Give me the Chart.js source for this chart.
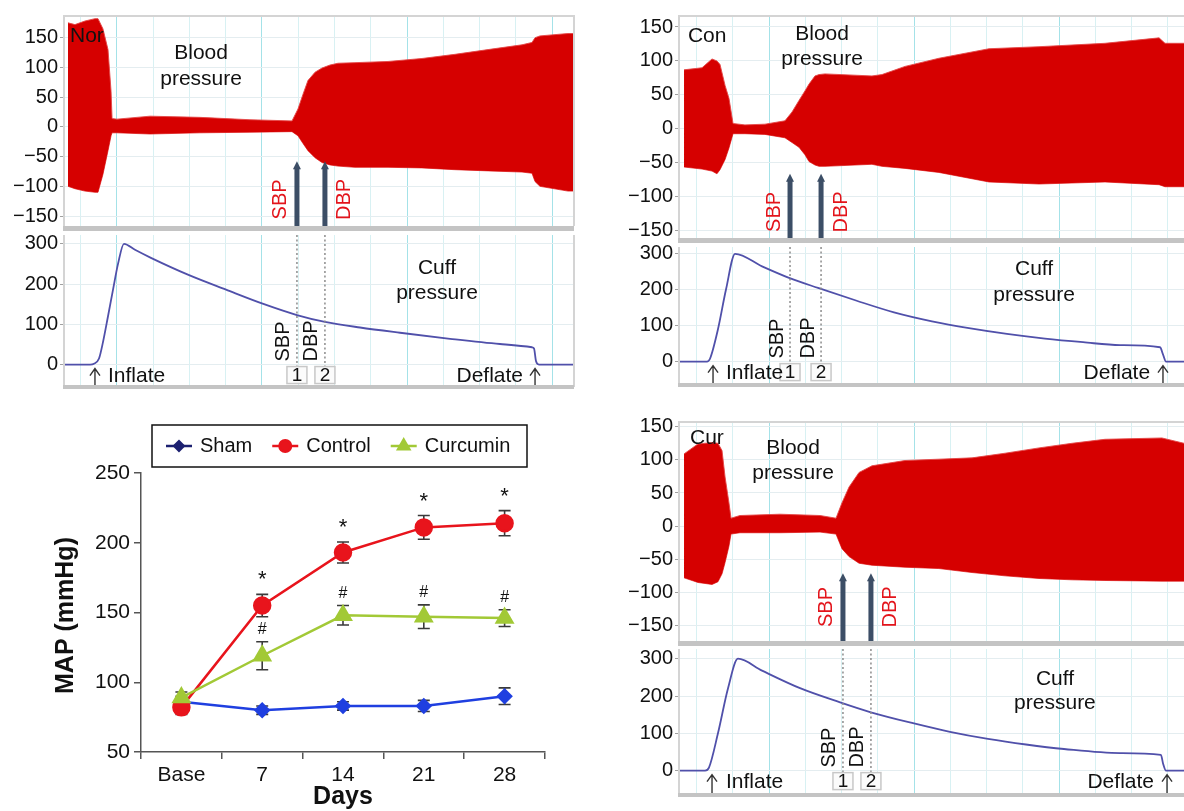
<!DOCTYPE html>
<html>
<head>
<meta charset="utf-8">
<script src="https://cdn.jsdelivr.net/npm/chart.js@4.4.1/dist/chart.umd.min.js"></script>
<style>
html,body{margin:0;padding:0;background:#fff;width:1184px;height:811px;overflow:hidden;position:relative;}
.h{position:absolute;}
</style>
</head>
<body>
<script>
// ---------------- DATA ----------------
// Recording traces (time in s, pressure in mmHg)
const NOR_T  = [-3.38,-2.9,-2.21,-1.52,-1.31,-0.97,-0.62,-0.41,-0.34,0,2.28,5.72,9.17,12.07,12.48,12.83,13.17,13.66,14.14,14.69,15.24,16.41,18.69,21.03,23.31,25.59,27.93,28.62,28.83,29.17,31.1,31.52];
const NOR_UP = [175,172,178,182,182,165,130,60,14,13,18,16,12,10,30,55,78,92,99,104,107,108,110,115,122,130,138,142,150,153,157,157];
const NOR_LO = [-100,-104,-108,-110,-110,-80,-40,-15,-10,-10,-12,-10,-9,-8,-15,-28,-40,-52,-60,-64,-66,-68,-68,-69,-72,-74,-76,-78,-92,-100,-108,-108];
const NOR_CUFF_T = [-3.655,-1.86,-1.59,-1.24,-0.97,-0.62,-0.28,0.07,0.48,1.24,2.34,4.97,7.52,10.14,12.41,14.34,16.76,19.52,22.97,26.41,28.62,28.76,28.9,29.1,31.52];
const NOR_CUFF   = [0,0,2,15,55,120,185,250,300,285,265,222,186,150,123,106,92,79,64,51,43,40,8,0,0];
const NOR_MARKS  = [12.41, 14.34];

const CON_T  = [-5.86,-4.62,-3.93,-3.59,-3.38,-3.03,-2.76,-2.48,-1.66,-0.28,1.10,1.59,2.07,2.48,2.76,3.17,3.45,3.86,7.10,7.79,9.38,11.72,15.17,18.62,23.17,26.9,27.31,28.62];
const CON_UP = [87,90,103,100,95,64,45,8,6,7,12,25,42,56,66,78,80,81,78,80,92,104,118,121,126,134,126,126];
const CON_LO = [-56,-59,-62,-66,-60,-45,-28,-7,-7,-8,-13,-20,-27,-38,-48,-53,-55,-55,-52,-55,-58,-64,-78,-81,-78,-82,-85,-85];
const CON_CUFF_T = [-6.207,-4.28,-4.07,-3.52,-2.97,-2.34,-0.48,1.38,3.38,6.0,8.62,11.24,13.79,16.41,19.03,21.66,24.21,26.97,27.17,27.38,28.62];
const CON_CUFF   = [0,0,8,90,200,300,265,233,205,170,137,112,93,77,64,54,46,40,20,0,0];
const CON_MARKS  = [1.45, 3.59];

const CUR_T  = [-5.86,-4.9,-3.93,-3.52,-3.24,-3.03,-2.76,-2.62,-2.0,0.76,3.52,4.62,5.03,5.52,6.21,7.1,9.38,11.72,14.0,16.28,18.62,20.9,23.17,27.1,28.62];
const CUR_UP = [109,124,126,125,114,74,35,12,16,18,16,12,35,59,81,91,99,101,103,110,118,125,131,133,125];
const CUR_LO = [-78,-85,-88,-84,-72,-55,-30,-12,-10,-10,-9,-12,-34,-46,-56,-59,-62,-64,-70,-75,-79,-81,-82,-83,-83];
const CUR_CUFF_T = [-6.207,-4.41,-4.14,-3.52,-2.83,-2.14,-0.48,2.14,4.9,6.97,9.93,12.48,15.1,17.72,20.34,24.21,27.03,27.17,27.38,28.62];
const CUR_CUFF   = [0,0,8,100,220,300,268,221,183,157,127,104,85,70,58,47,42,20,0,0];
const CUR_MARKS  = [5.1, 7.03];

const BP_TICKS   = [-150,-100,-50,0,50,100,150];
const CUFF_TICKS = [0,100,200,300];
const MARK_LABELS = ['SBP','DBP'];
const BOX_LABELS  = ['1','2'];
const BP_TITLE    = ['Blood','pressure'];
const CUFF_TITLE  = ['Cuff','pressure'];
const EVENT_LABELS = ['Inflate','Deflate'];

// MAP line chart
const DAYS = ['Base','7','14','21','28'];
const SHAM = [86, 80, 83, 83, 90];
const SHAM_ERR = [4, 3, 3, 4, 6];
const CONTROL = [82, 155, 193, 211, 214];
const CONTROL_ERR = [5, 8, 7.5, 8.5, 9];
const CURCUMIN = [89, 119, 148, 147, 146];
const CURCUMIN_ERR = [4, 10, 7, 8.5, 6];
const CONTROL_SIG = ['', '*', '*', '*', '*'];
const CURCUMIN_SIG = ['', '#', '#', '#', '#'];
const SERIES_NAMES = ['Sham','Control','Curcumin'];

// ---------------- RENDER ----------------
const FONT = "'Liberation Sans', Arial, Helvetica, sans-serif";
Chart.defaults.font.family = FONT;
Chart.defaults.color = '#111';
const PAD = 12;
const RED = '#d60000';
const RED_EDGE = 'rgba(228,70,70,0.9)';
const CUFF_COLOR = '#5050aa';

function holder(left, top, w, h) {
  const d = document.createElement('div');
  d.className = 'h';
  d.style.left = left + 'px'; d.style.top = top + 'px';
  d.style.width = w + 'px'; d.style.height = h + 'px';
  const c = document.createElement('canvas');
  d.appendChild(c); document.body.appendChild(d);
  return c;
}
const pts = (t, v) => t.map((x, i) => ({x, y: v[i]}));
const minus = v => (v < 0 ? '\u2212' + Math.abs(v) : String(v));

function txt(ctx, s, x, y, o) {
  o = o || {};
  ctx.save();
  ctx.font = o.font || ('21px ' + FONT);
  ctx.fillStyle = o.color || '#111';
  ctx.textAlign = o.align || 'center';
  ctx.textBaseline = 'middle';
  ctx.translate(x, y);
  if (o.rot) ctx.rotate(-Math.PI / 2);
  ctx.fillText(s, 0, 0);
  ctx.restore();
}

function gridColor(c) {
  const v = c.tick ? c.tick.value : 0;
  return Math.abs(v / 10 - Math.round(v / 10)) < 1e-6 ? '#a4e2e8' : '#d8f1f3';
}

function recChart(p) {
  const c = holder(p.left, p.top - PAD, p.width, p.bottom - p.top + 2 * PAD);
  return new Chart(c, {
    type: 'line',
    data: { datasets: p.datasets },
    options: {
      responsive: true, maintainAspectRatio: false, animation: false, events: [],
      layout: { padding: { top: PAD, bottom: PAD, left: 0, right: p.padRight } },
      plugins: { legend: { display: false }, tooltip: { enabled: false } },
      elements: { point: { radius: 0 } },
      scales: {
        x: {
          type: 'linear', min: p.xmin, max: p.xmax,
          ticks: { display: false, stepSize: 2.5, includeBounds: false, maxTicksLimit: 200 },
          grid: { color: gridColor, lineWidth: 1, drawTicks: false },
          border: { display: false },
          afterFit: s => { s.height = 0; }
        },
        y: {
          min: p.ymin, max: p.ymax,
          afterBuildTicks: s => { s.ticks = p.ticks.map(v => ({ value: v })); },
          afterFit: s => { s.width = p.axisW; },
          ticks: { callback: minus, font: { size: 20 }, color: '#111', padding: 2 },
          grid: { color: '#e4edf0', tickColor: '#a0a0a0', tickLength: 4 },
          border: { display: false }
        }
      }
    },
    plugins: [{ id: 'rec', afterDatasetsDraw: ch => p.draw(ch), afterDraw: ch => p.frame(ch) }]
  });
}

function frameFn(kind, right) {
  return ch => {
    const { ctx, chartArea: A } = ch;
    ctx.save();
    ctx.fillStyle = '#d4d4d4';
    if (kind === 'bp') ctx.fillRect(A.left - 1, A.top - 2, A.right - A.left + 1, 2);
    ctx.fillRect(A.left - 1, A.top, 2, A.bottom - A.top);
    if (right) ctx.fillRect(A.right - 1, A.top - (kind === 'bp' ? 2 : 0), 2, A.bottom - A.top + 2);
    ctx.fillStyle = '#c4c4c4';
    ctx.fillRect(A.left - 1, A.bottom, A.right - A.left + 1, kind === 'bp' ? 5 : 4);
    ctx.restore();
  };
}

function bpDraw(a) {
  return ch => {
    const { ctx, chartArea: A, scales: { x, y } } = ch;
    a.marks.forEach((t, i) => {
      const px = x.getPixelForValue(t), top = y.getPixelForValue(a.arrowTop);
      ctx.save();
      ctx.fillStyle = '#3c4e66';
      ctx.fillRect(px - 2.5, top + 6, 5, A.bottom - top - 6);
      ctx.beginPath();
      ctx.moveTo(px - 4, top + 8); ctx.lineTo(px, top); ctx.lineTo(px + 4, top + 8);
      ctx.closePath(); ctx.fill();
      ctx.restore();
      txt(ctx, MARK_LABELS[i], px + (i === 0 ? -16 : 20), y.getPixelForValue(-122), { color: '#e3141b', rot: true, font: '20px ' + FONT });
    });
    txt(ctx, a.tag, x.getPixelForValue(a.tagT), y.getPixelForValue(a.tagV), { align: 'left' });
    txt(ctx, BP_TITLE[0], x.getPixelForValue(a.titleT), y.getPixelForValue(a.titleV[0]));
    txt(ctx, BP_TITLE[1], x.getPixelForValue(a.titleT), y.getPixelForValue(a.titleV[1]));
  };
}

function upArrow(ctx, px, y0, y1) {
  ctx.save();
  ctx.strokeStyle = '#333'; ctx.lineWidth = 1.4;
  ctx.beginPath();
  ctx.moveTo(px, y0); ctx.lineTo(px, y1);
  ctx.moveTo(px - 5, y0 + 7); ctx.lineTo(px, y0); ctx.lineTo(px + 5, y0 + 7);
  ctx.stroke();
  ctx.restore();
}

function cuffDraw(a) {
  return ch => {
    const { ctx, chartArea: A, scales: { x, y } } = ch;
    const y0 = y.getPixelForValue(0);
    a.marks.forEach((t, i) => {
      const px = x.getPixelForValue(t);
      ctx.save();
      ctx.strokeStyle = '#8c8c8c'; ctx.lineWidth = 1.5; ctx.setLineDash([2, 2.5]);
      ctx.beginPath(); ctx.moveTo(px, A.top); ctx.lineTo(px, y0 + 18); ctx.stroke();
      ctx.restore();
      ctx.save();
      ctx.fillStyle = '#fbfbfb'; ctx.strokeStyle = '#c8c8c8'; ctx.lineWidth = 1.5;
      ctx.fillRect(px - 10, y0 + 2, 20, 17); ctx.strokeRect(px - 10, y0 + 2, 20, 17);
      ctx.restore();
      txt(ctx, BOX_LABELS[i], px, y0 + 11, { font: '19px ' + FONT });
      txt(ctx, MARK_LABELS[i], px - 13, y0 - 3, { rot: true, align: 'left', font: '20px ' + FONT });
    });
    upArrow(ctx, x.getPixelForValue(a.inflT), y0 + 4, A.bottom + 2);
    upArrow(ctx, x.getPixelForValue(a.deflT), y0 + 4, A.bottom + 2);
    txt(ctx, EVENT_LABELS[0], x.getPixelForValue(a.inflTextT), y0 + 12, { align: 'left' });
    txt(ctx, EVENT_LABELS[1], x.getPixelForValue(a.deflTextT), y0 + 12, { align: 'right' });
    txt(ctx, CUFF_TITLE[0], x.getPixelForValue(a.cuffT), y.getPixelForValue(a.cuffV[0]));
    txt(ctx, CUFF_TITLE[1], x.getPixelForValue(a.cuffT), y.getPixelForValue(a.cuffV[1]));
  };
}

function envelope(T, UP, LO) {
  return [
    { data: pts(T, UP), fill: '+1', backgroundColor: RED, borderColor: RED_EDGE, borderWidth: 1, pointRadius: 0, tension: 0 },
    { data: pts(T, LO), fill: false, borderColor: RED_EDGE, borderWidth: 1, pointRadius: 0, tension: 0 }
  ];
}
function cuffSet(T, V) {
  return [{ data: pts(T, V), borderColor: CUFF_COLOR, borderWidth: 1.8, pointRadius: 0, cubicInterpolationMode: 'monotone', fill: false }];
}

function panel(P) {
  recChart({
    left: P.left, width: P.width, padRight: P.padRight, axisW: P.axisW,
    top: P.bpTop, bottom: P.bpBottom, xmin: P.xmin, xmax: P.xmax,
    ymin: P.bpMin, ymax: P.bpMax, ticks: BP_TICKS,
    datasets: envelope(P.T, P.UP, P.LO),
    draw: bpDraw(P.a), frame: frameFn('bp', P.right)
  });
  recChart({
    left: P.left, width: P.width, padRight: P.padRight, axisW: P.axisW,
    top: P.cuffTop, bottom: P.cuffBottom, xmin: P.xmin, xmax: P.xmax,
    ymin: P.cuffMin, ymax: P.cuffMax, ticks: CUFF_TICKS,
    datasets: cuffSet(P.CT, P.CV),
    draw: cuffDraw(P.a), frame: frameFn('cuff', P.right)
  });
}

// Nor (top-left)
panel({
  left: 0, width: 576, padRight: 2, axisW: 64, right: true,
  xmin: -3.655, xmax: 31.517,
  bpTop: 15, bpBottom: 228, bpMin: -166.7, bpMax: 184.8,
  cuffTop: 233, cuffBottom: 387, cuffMin: -50.8, cuffMax: 321.8,
  T: NOR_T, UP: NOR_UP, LO: NOR_LO, CT: NOR_CUFF_T, CV: NOR_CUFF,
  a: { marks: NOR_MARKS, arrowTop: -58, tag: 'Nor', tagT: -3.24, tagV: 152, titleT: 5.8, titleV: [124, 81],
       cuffT: 22.07, cuffV: [240, 177], inflT: -1.52, inflTextT: -0.62, deflT: 28.83, deflTextT: 28.0 }
});
// Con (top-right)
panel({
  left: 592, width: 592, padRight: 0, axisW: 87, right: false,
  xmin: -6.207, xmax: 28.62,
  bpTop: 15, bpBottom: 240, bpMin: -160.4, bpMax: 164.7,
  cuffTop: 245, cuffBottom: 385, cuffMin: -59.5, cuffMax: 318.9,
  T: CON_T, UP: CON_UP, LO: CON_LO, CT: CON_CUFF_T, CV: CON_CUFF,
  a: { marks: CON_MARKS, arrowTop: -66, tag: 'Con', tagT: -5.59, tagV: 136, titleT: 3.66, titleV: [140, 103],
       cuffT: 18.28, cuffV: [257, 184], inflT: -3.86, inflTextT: -2.97, deflT: 27.17, deflTextT: 26.28 }
});
// Cur (bottom-right)
panel({
  left: 592, width: 592, padRight: 0, axisW: 87, right: false,
  xmin: -6.207, xmax: 28.62,
  bpTop: 421, bpBottom: 643, bpMin: -173.3, bpMax: 155.6,
  cuffTop: 647, cuffBottom: 795, cuffMin: -60, cuffMax: 326,
  T: CUR_T, UP: CUR_UP, LO: CUR_LO, CT: CUR_CUFF_T, CV: CUR_CUFF,
  a: { marks: CUR_MARKS, arrowTop: -71, tag: 'Cur', tagT: -5.45, tagV: 133, titleT: 1.66, titleV: [118, 80],
       cuffT: 19.72, cuffV: [245, 180], inflT: -3.93, inflTextT: -2.97, deflT: 27.45, deflTextT: 26.55 }
});

// ---------- MAP chart ----------
const mapPlugin = {
  id: 'mapExtras',
  beforeDatasetsDraw(ch) {
    const { ctx, scales: { y } } = ch;
    ctx.save(); ctx.strokeStyle = '#3a3a3a'; ctx.lineWidth = 1.6;
    ch.data.datasets.forEach((ds, i) => {
      ch.getDatasetMeta(i).data.forEach((pt, j) => {
        const v = ds.data[j], e = ds.err[j];
        const yt = y.getPixelForValue(v + e), yb = y.getPixelForValue(v - e);
        ctx.beginPath();
        ctx.moveTo(pt.x, yt); ctx.lineTo(pt.x, yb);
        ctx.moveTo(pt.x - 6, yt); ctx.lineTo(pt.x + 6, yt);
        ctx.moveTo(pt.x - 6, yb); ctx.lineTo(pt.x + 6, yb);
        ctx.stroke();
      });
    });
    ctx.restore();
  },
  afterDatasetsDraw(ch) {
    const { ctx, scales: { y } } = ch;
    ch.data.datasets.forEach((ds, i) => {
      if (!ds.sig) return;
      ch.getDatasetMeta(i).data.forEach((pt, j) => {
        const s = ds.sig[j]; if (!s) return;
        const yt = y.getPixelForValue(ds.data[j] + ds.err[j]);
        if (s === '*') txt(ctx, s, pt.x, yt - 14, { font: '22px ' + FONT });
        else txt(ctx, s, pt.x, yt - 12, { font: '16px ' + FONT });
      });
    });
  },
  afterDraw(ch) {
    const { ctx, chartArea: A } = ch;
    txt(ctx, 'MAP (mmHg)', A.left - 75, (A.top + A.bottom) / 2 + 3, { font: 'bold 25px ' + FONT, rot: true });
    txt(ctx, 'Days', (A.left + A.right) / 2, A.bottom + 45, { font: 'bold 25px ' + FONT });
    const L = { x: A.left + 11, y: A.top - 48, w: 375, h: 42 };
    ctx.save();
    ctx.strokeStyle = '#111'; ctx.lineWidth = 1.5;
    ctx.strokeRect(L.x, L.y, L.w, L.h);
    ctx.font = '20px ' + FONT;
    let cx = L.x + 14; const cy = L.y + L.h / 2;
    ch.data.datasets.forEach(ds => {
      const col = ds.legendColor || ds.borderColor;
      ctx.strokeStyle = col; ctx.fillStyle = col; ctx.lineWidth = 2.5;
      ctx.beginPath(); ctx.moveTo(cx, cy); ctx.lineTo(cx + 26, cy); ctx.stroke();
      Chart.helpers.drawPoint(ctx, { pointStyle: ds.pointStyle, radius: ds.pointRadius * 0.72, rotation: 0, borderWidth: 1 }, cx + 13, cy);
      ctx.fillStyle = '#111'; ctx.textAlign = 'left'; ctx.textBaseline = 'middle';
      ctx.fillText(ds.label, cx + 34, cy);
      cx += 34 + ctx.measureText(ds.label).width + 20;
    });
    ctx.restore();
  }
};

const mapCanvas = holder(0, 405, 592, 406);
new Chart(mapCanvas, {
  type: 'line',
  data: {
    labels: DAYS,
    datasets: [
      { label: SERIES_NAMES[0], data: SHAM, err: SHAM_ERR, borderColor: '#1f3fe0', backgroundColor: '#1f3fe0',
        pointBorderColor: '#1f3fe0', legendColor: '#1c2070', pointStyle: 'rectRot', pointRadius: 6.5, borderWidth: 2.5, order: 3 },
      { label: SERIES_NAMES[1], data: CONTROL, err: CONTROL_ERR, sig: CONTROL_SIG, borderColor: '#e8141c', backgroundColor: '#e8141c',
        pointBorderColor: '#e8141c', pointStyle: 'circle', pointRadius: 8, borderWidth: 2.5, order: 2 },
      { label: SERIES_NAMES[2], data: CURCUMIN, err: CURCUMIN_ERR, sig: CURCUMIN_SIG, borderColor: '#a2c936', backgroundColor: '#a2c936',
        pointBorderColor: '#a2c936', pointStyle: 'triangle', pointRadius: 9, borderWidth: 2.5, order: 1 }
    ]
  },
  options: {
    responsive: true, maintainAspectRatio: false, animation: false, events: [],
    layout: { padding: { top: 68, right: 47, left: 0, bottom: 0 } },
    plugins: { legend: { display: false }, tooltip: { enabled: false } },
    scales: {
      x: {
        offset: true,
        grid: { offset: true, drawOnChartArea: false, tickLength: 7, tickColor: '#555', lineWidth: 1.5 },
        border: { color: '#555', width: 1.5 },
        ticks: { font: { size: 21 }, color: '#111', padding: 4, maxRotation: 0 },
        afterFit: s => { s.height = 59; }
      },
      y: {
        min: 50, max: 250,
        ticks: { stepSize: 50, font: { size: 21 }, color: '#111', padding: 4 },
        grid: { drawOnChartArea: false, tickLength: 7, tickColor: '#555', lineWidth: 1.5 },
        border: { color: '#555', width: 1.5 },
        afterFit: s => { s.width = 141; }
      }
    }
  },
  plugins: [mapPlugin]
});
</script>
</body>
</html>
